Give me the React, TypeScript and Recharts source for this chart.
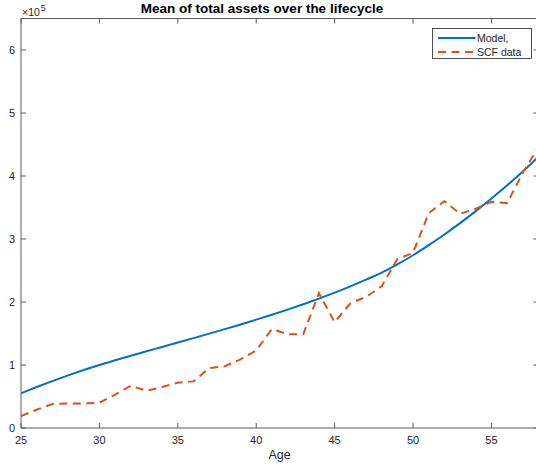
import React from "react";
import { LineChart, Line, XAxis, YAxis } from "recharts";

// ages on the x axis
const ages = [
  25, 26, 27, 28, 29, 30, 31, 32, 33, 34, 35, 36, 37, 38, 39, 40, 41,
  42, 43, 44, 45, 46, 47, 48, 49, 50, 51, 52, 53, 54, 55, 56, 57, 58,
];

// mean total assets, model (dollars)
const modelAssets = [
  55000, 65000, 74500, 83500, 92000, 100000, 107500, 114700, 121700, 128700,
  135700, 142700, 149800, 157000, 164400, 172000, 179800, 187900, 196400,
  205400, 214900, 224900, 235500, 246700, 259700, 274200, 290200, 307200,
  325200, 344200, 364200, 385200, 407200, 430700,
];

// mean total assets, SCF data (dollars)
const scfAssets = [
  19000, 29000, 38000, 39000, 39000, 40000, 53000, 67000, 59000, 65000,
  72000, 74000, 95000, 98000, 109000, 123000, 157000, 149000, 149000,
  214000, 168000, 198000, 208000, 225000, 268000, 278000, 341000, 360000,
  340000, 348000, 359000, 357000, 405000, 446000,
];

const seriesNames = ["Model,", "SCF data"];
const xTicks = [25, 30, 35, 40, 45, 50, 55];
const yTicks = [0, 100000, 200000, 300000, 400000, 500000, 600000];

const data = ages.map((age, i) => ({ age, model: modelAssets[i], scf: scfAssets[i] }));

const FONT = '"Liberation Sans", Arial, Helvetica, sans-serif';
const AXIS = "#5a5a5a";
const TEXT = "#262626";
const BLUE = "#0072BD";
const RED = "#D95319";
const DASH = "8 5.5";
const TICK = 5;

const BottomTick = (props: any) => {
  const { x, y, payload } = props;
  return (
    <g>
      <line x1={x} x2={x} y1={y} y2={y - TICK} stroke={AXIS} />
      <text x={x} y={y + 16} textAnchor="middle" fontSize={11} fontFamily={FONT} fill={TEXT}>
        {payload.value}
      </text>
    </g>
  );
};

const TopTick = (props: any) => {
  const { x, y } = props;
  return <line x1={x} x2={x} y1={y} y2={y + TICK} stroke={AXIS} />;
};

const LeftTick = (props: any) => {
  const { x, y, payload } = props;
  return (
    <g>
      <line x1={x} x2={x + TICK} y1={y} y2={y} stroke={AXIS} />
      <text x={x - 6} y={y + 4} textAnchor="end" fontSize={11} fontFamily={FONT} fill={TEXT}>
        {payload.value / 100000}
      </text>
    </g>
  );
};

const RightTick = (props: any) => {
  const { x, y } = props;
  return <line x1={x} x2={x - TICK} y1={y} y2={y} stroke={AXIS} />;
};

export default function App() {
  return (
    <div
      style={{
        position: "absolute",
        left: 0,
        top: 0,
        width: 536,
        height: 466,
        overflow: "hidden",
        background: "#fff",
      }}
    >
      <LineChart width={545} height={466} data={data} margin={{ top: 17.5, right: 5.5, bottom: 37, left: 20 }}>
        <XAxis
          type="number"
          dataKey="age"
          domain={[25, 58]}
          ticks={xTicks}
          interval={0}
          height={1}
          tickSize={0}
          tickMargin={0}
          tickLine={false}
          axisLine={{ stroke: AXIS }}
          tick={<BottomTick />}
          allowDataOverflow
        />
        <XAxis
          xAxisId="top"
          orientation="top"
          type="number"
          dataKey="age"
          domain={[25, 58]}
          ticks={xTicks}
          interval={0}
          height={1}
          tickSize={0}
          tickMargin={0}
          tickLine={false}
          axisLine={{ stroke: AXIS }}
          tick={<TopTick />}
          allowDataOverflow
        />
        <YAxis
          type="number"
          domain={[0, 650000]}
          ticks={yTicks}
          interval={0}
          width={1}
          tickSize={0}
          tickMargin={0}
          tickLine={false}
          axisLine={{ stroke: AXIS }}
          tick={<LeftTick />}
          allowDataOverflow
        />
        <YAxis
          yAxisId="right"
          orientation="right"
          type="number"
          domain={[0, 650000]}
          ticks={yTicks}
          interval={0}
          width={1}
          tickSize={0}
          tickMargin={0}
          tickLine={false}
          axisLine={{ stroke: AXIS }}
          tick={<RightTick />}
          allowDataOverflow
        />
        <Line
          type="monotone"
          dataKey="model"
          name={seriesNames[0]}
          stroke={BLUE}
          strokeWidth={2}
          dot={false}
          isAnimationActive={false}
        />
        <Line
          type="linear"
          dataKey="scf"
          name={seriesNames[1]}
          stroke={RED}
          strokeWidth={2}
          strokeDasharray={DASH}
          dot={false}
          isAnimationActive={false}
        />
      </LineChart>
      <svg
        width={536}
        height={466}
        style={{ position: "absolute", left: 0, top: 0, pointerEvents: "none" }}
      >
        <text x={262} y={13} textAnchor="middle" fontSize={13.5} fontWeight="bold" fontFamily={FONT} fill="#000">
          Mean of total assets over the lifecycle
        </text>
        <text x={22} y={16} fontSize={10.5} fontFamily={FONT} fill={TEXT}>
          ×10
          <tspan dx={1} dy={-5.5} fontSize={9}>
            5
          </tspan>
        </text>
        <text x={279.5} y={459} textAnchor="middle" fontSize={12.5} fontFamily={FONT} fill={TEXT}>
          Age
        </text>
        {/* legend */}
        <g transform="translate(432,28)">
          <rect x={0.5} y={0.5} width={99} height={30} fill="#fff" stroke={TEXT} strokeWidth={0.8} />
          <line x1={6} x2={43.5} y1={10} y2={10} stroke={BLUE} strokeWidth={2} />
          <text x={45} y={13.5} fontSize={10.5} fontFamily={FONT} fill={TEXT}>
            {seriesNames[0]}
          </text>
          <line x1={6} x2={43.5} y1={24} y2={24} stroke={RED} strokeWidth={2} strokeDasharray={DASH} />
          <text x={45} y={27.5} fontSize={10.5} fontFamily={FONT} fill={TEXT}>
            {seriesNames[1]}
          </text>
        </g>
      </svg>
    </div>
  );
}
